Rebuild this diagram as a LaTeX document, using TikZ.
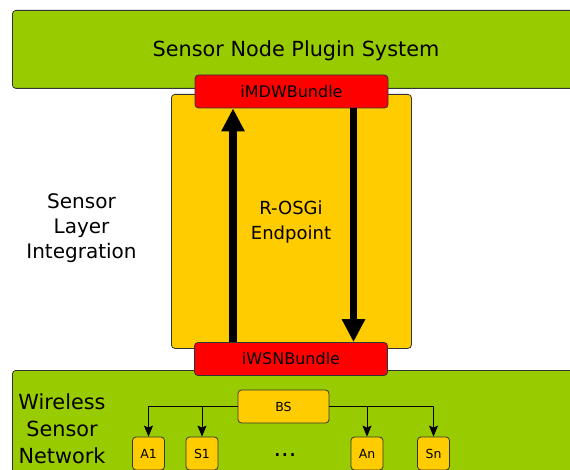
\documentclass[tikz,border=0pt]{standalone}
\usepackage{fontspec}
\setmainfont{DejaVu Sans}
\usetikzlibrary{arrows.meta}

\definecolor{layergreen}{HTML}{99CC00}
\definecolor{layeryellow}{HTML}{FFCC00}
\definecolor{bundlered}{HTML}{FF0000}
\definecolor{edgegray}{HTML}{333333}

\begin{document}
\begin{tikzpicture}[x=1pt, y=-1pt,
		box/.style={draw=edgegray, line width=0.8pt, rounded corners=3.5pt, inner sep=0pt},
		layer/.style={box, fill=layergreen, anchor=north west},
		bundle/.style={box, fill=bundlered, minimum width=193pt, minimum height=33pt, font=\fontsize{16}{19}\selectfont},
		mote/.style={box, fill=layeryellow, minimum width=32pt, minimum height=33pt, font=\fontsize{12.5}{15}\selectfont},
		bigtext/.style={align=center, font=\fontsize{20}{25}\selectfont},
		flow/.style={line width=7.5pt, -{Triangle[width=22pt,length=23pt]}},
		link/.style={line width=0.9pt, -{Stealth[width=9pt,length=11pt,inset=2pt]}}]
		\clip (0,0) rectangle (570,470);

		% Layers
		\node[layer, minimum width=588pt, minimum height=78pt] (plugin) at (12,10) {};
		\node[layer, minimum width=588pt, minimum height=130pt] (wsn) at (12,370) {};
		\node[box, fill=layeryellow, anchor=north west, minimum width=240pt, minimum height=254pt] (endpoint) at (171,94) {};

		% Bundles
		\node[bundle] (imdw) at (291.5,91.5) {iMDWBundle};
		\node[bundle] (iwsn) at (291,359) {iWSNBundle};

		% Calls going up and down through the endpoint
		\draw[flow] ([xshift=-58pt]iwsn.north) -- ([xshift=-58.5pt]imdw.south);
		\draw[flow] ([xshift=62pt]imdw.south) -- ([xshift=62.5pt]iwsn.north);

		% Labels
		\node[font=\fontsize{20.8}{24}\selectfont, anchor=base] (plugintitle) at (296,57) {Sensor Node Plugin System};
		\node[bigtext] (sli) at (81.5,228) {Sensor\\Layer\\Integration};
		\node[bigtext, font=\fontsize{18}{25}\selectfont] (rosgi) at (291,222.5) {R-OSGi\\Endpoint};
		\node[bigtext, font=\fontsize{20.8}{27}\selectfont] (wsntext) at (62,428.5) {Wireless\\Sensor\\Network};

		% Base station and motes
		\node[mote, minimum width=91pt] (bs) at (283.5,406.5) {BS};
		\node[mote] (a1) at (148.5,453.5) {A1};
		\node[mote] (s1) at (202,453.5) {S1};
		\node[mote] (an) at (367,453.5) {An};
		\node[mote] (sn) at (433.5,453.5) {Sn};
		\node[font=\fontsize{24}{28}\selectfont] (dots) at (285,455) {...};

		\draw[link] (bs.west) -| (a1.north);
		\draw[link] (bs.west) -| (s1.north);
		\draw[link] (bs.east) -| (an.north);
		\draw[link] (bs.east) -| (sn.north);
	\end{tikzpicture}
\end{document}
